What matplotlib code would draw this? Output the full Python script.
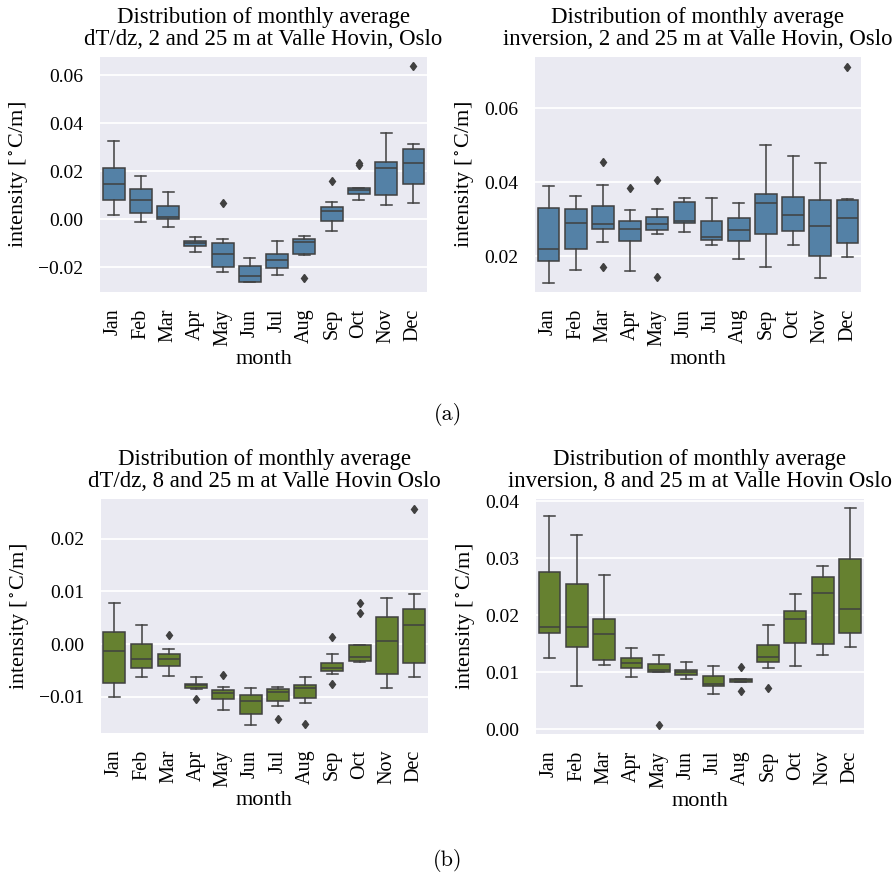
import colorsys
import numpy as np
import matplotlib
matplotlib.use("Agg")
import matplotlib.pyplot as plt
import matplotlib.colors as mcolors

months = ["Jan", "Feb", "Mar", "Apr", "May", "Jun", "Jul", "Aug", "Sep", "Oct", "Nov", "Dec"]

# box statistics: whislo, q1, med, q3, whishi, fliers
dtdz_2_whislo = [0.0018, -0.0013, -0.0031, -0.0138, -0.0219, -0.0263, -0.0233, -0.0150, -0.0047, 0.0081, 0.0058, 0.0069]
dtdz_2_q1 = [0.0078, 0.0025, -0.0001, -0.0111, -0.0197, -0.0260, -0.0204, -0.0143, -0.0008, 0.0104, 0.0099, 0.0146]
dtdz_2_med = [0.0147, 0.0081, 0.0008, -0.0100, -0.0146, -0.0238, -0.0171, -0.0094, 0.0036, 0.0122, 0.0214, 0.0232]
dtdz_2_q3 = [0.0213, 0.0126, 0.0053, -0.0090, -0.0101, -0.0196, -0.0144, -0.0081, 0.0049, 0.0129, 0.0238, 0.0294]
dtdz_2_whishi = [0.0324, 0.0181, 0.0115, -0.0072, -0.0083, -0.0160, -0.0092, -0.0068, 0.0071, 0.0132, 0.0357, 0.0314]
dtdz_2_fliers = [[], [], [], [], [0.0068], [], [], [-0.0243], [0.0157], [0.0236, 0.0226], [], [0.0636]]

inv_2_whislo = [0.0128, 0.0163, 0.0237, 0.0159, 0.0260, 0.0265, 0.0231, 0.0191, 0.0170, 0.0231, 0.0140, 0.0198]
inv_2_q1 = [0.0186, 0.0220, 0.0274, 0.0240, 0.0271, 0.0290, 0.0244, 0.0242, 0.0259, 0.0267, 0.0199, 0.0234]
inv_2_med = [0.0220, 0.0289, 0.0286, 0.0274, 0.0288, 0.0295, 0.0251, 0.0270, 0.0344, 0.0312, 0.0281, 0.0302]
inv_2_q3 = [0.0331, 0.0327, 0.0335, 0.0294, 0.0305, 0.0347, 0.0296, 0.0302, 0.0369, 0.0360, 0.0353, 0.0351]
inv_2_whishi = [0.0391, 0.0362, 0.0393, 0.0324, 0.0327, 0.0357, 0.0357, 0.0344, 0.0501, 0.0470, 0.0451, 0.0354]
inv_2_fliers = [[], [], [0.0455, 0.0170], [0.0385], [0.0405, 0.0143], [], [], [], [], [], [], [0.0712]]

dtdz_8_whislo = [-0.0101, -0.0063, -0.0060, -0.0086, -0.0125, -0.0154, -0.0118, -0.0112, -0.0056, -0.0034, -0.0084, -0.0062]
dtdz_8_q1 = [-0.0073, -0.0046, -0.0041, -0.0083, -0.0104, -0.0132, -0.0108, -0.0102, -0.0051, -0.0033, -0.0056, -0.0035]
dtdz_8_med = [-0.0013, -0.0029, -0.0028, -0.0078, -0.0092, -0.0108, -0.0091, -0.0084, -0.0045, -0.0024, 0.0006, 0.0036]
dtdz_8_q3 = [0.0022, 0.0000, -0.0019, -0.0075, -0.0087, -0.0096, -0.0086, -0.0077, -0.0035, -0.0002, 0.0051, 0.0066]
dtdz_8_whishi = [0.0077, 0.0037, -0.0010, -0.0063, -0.0082, -0.0084, -0.0081, -0.0063, -0.0018, -0.0001, 0.0088, 0.0094]
dtdz_8_fliers = [[], [], [0.0017], [-0.0104], [-0.0059], [], [-0.0142], [-0.0151], [0.0014, -0.0076], [0.0078, 0.0058], [], [0.0257]]

inv_8_whislo = [0.0126, 0.0076, 0.0113, 0.0092, 0.0100, 0.0088, 0.0063, 0.0083, 0.0108, 0.0111, 0.0131, 0.0145]
inv_8_q1 = [0.0169, 0.0145, 0.0122, 0.0108, 0.0100, 0.0095, 0.0077, 0.0084, 0.0118, 0.0152, 0.0149, 0.0169]
inv_8_med = [0.0179, 0.0179, 0.0168, 0.0116, 0.0105, 0.0100, 0.0080, 0.0086, 0.0127, 0.0193, 0.0239, 0.0211]
inv_8_q3 = [0.0276, 0.0255, 0.0194, 0.0125, 0.0114, 0.0105, 0.0094, 0.0088, 0.0148, 0.0207, 0.0267, 0.0298]
inv_8_whishi = [0.0374, 0.0341, 0.0271, 0.0143, 0.0131, 0.0119, 0.0112, 0.0089, 0.0183, 0.0237, 0.0287, 0.0388]
inv_8_fliers = [[], [], [], [], [0.0008], [], [], [0.0110, 0.0067], [0.0072], [], [], []]

plt.rcParams["font.family"] = ["Liberation Serif", "DejaVu Serif"]
plt.rcParams["mathtext.fontset"] = "stix"


def desat(c, prop=0.75):
    r, g, b = mcolors.to_rgb(c)
    h, l, s = colorsys.rgb_to_hls(r, g, b)
    return colorsys.hls_to_rgb(h, l, s * prop)


def box_panel(ax, whislo, q1, med, q3, whishi, fliers, color, title, ylim, yticks):
    stats = []
    for i in range(len(months)):
        stats.append(dict(whislo=whislo[i], q1=q1[i], med=med[i], q3=q3[i], whishi=whishi[i], fliers=fliers[i]))
    line = "#404040"
    ax.bxp(stats, positions=np.arange(len(months)), widths=0.8, patch_artist=True, showfliers=True,
           boxprops=dict(facecolor=desat(color), edgecolor=line, linewidth=1.1),
           medianprops=dict(color=line, linewidth=1.1),
           whiskerprops=dict(color=line, linewidth=1.1),
           capprops=dict(color=line, linewidth=1.1),
           flierprops=dict(marker="d", markerfacecolor=line, markeredgecolor=line, markersize=4.5),
           capwidths=0.4)
    ax.set_facecolor("#EAEAF2")
    for s in ax.spines.values():
        s.set_visible(False)
    ax.set_axisbelow(True)
    ax.grid(True, axis="y", color="white", linewidth=1.3)
    ax.set_xlim(-0.5, len(months) - 0.5)
    ax.set_ylim(*ylim)
    ax.set_yticks(yticks)
    ax.set_xticks(np.arange(len(months)))
    ax.set_xticklabels(months, rotation=90)
    ax.tick_params(axis="both", length=0, pad=12)
    ax.tick_params(axis="y", labelsize=14)
    ax.tick_params(axis="x", labelsize=14.5)
    ax.set_title(title, fontsize=16.4, linespacing=1.05, pad=9)
    ax.set_xlabel("month", fontsize=16, labelpad=3)
    ax.set_ylabel(r"intensity [$^\circ$C/m]", fontsize=16, labelpad=5)


fig = plt.figure(figsize=(8.96, 8.77), dpi=100)
blue = "steelblue"
green = "olivedrab"

ax = fig.add_axes([0.1116, 0.667, 0.365, 0.268])
box_panel(ax, dtdz_2_whislo, dtdz_2_q1, dtdz_2_med, dtdz_2_q3, dtdz_2_whishi, dtdz_2_fliers, blue,
          "Distribution of monthly average\ndT/dz, 2 and 25 m at Valle Hovin, Oslo",
          (-0.0303, 0.0675), [-0.02, 0.0, 0.02, 0.04, 0.06])

ax = fig.add_axes([0.597, 0.667, 0.364, 0.268])
box_panel(ax, inv_2_whislo, inv_2_q1, inv_2_med, inv_2_q3, inv_2_whishi, inv_2_fliers, blue,
          "Distribution of monthly average\ninversion, 2 and 25 m at Valle Hovin, Oslo",
          (0.01025, 0.0739), [0.02, 0.04, 0.06])

ax = fig.add_axes([0.1124, 0.164, 0.365, 0.267])
box_panel(ax, dtdz_8_whislo, dtdz_8_q1, dtdz_8_med, dtdz_8_q3, dtdz_8_whishi, dtdz_8_fliers, green,
          "Distribution of monthly average\ndT/dz, 8 and 25 m at Valle Hovin Oslo",
          (-0.0169, 0.0275), [-0.01, 0.0, 0.01, 0.02])

ax = fig.add_axes([0.598, 0.163, 0.366, 0.268])
box_panel(ax, inv_8_whislo, inv_8_q1, inv_8_med, inv_8_q3, inv_8_whishi, inv_8_fliers, green,
          "Distribution of monthly average\ninversion, 8 and 25 m at Valle Hovin Oslo",
          (-0.0008, 0.0404), [0.0, 0.01, 0.02, 0.03, 0.04])

fig.text(0.5, 0.527, "(a)", ha="center", va="center", fontsize=16, family="cmr10")
fig.text(0.5, 0.019, "(b)", ha="center", va="center", fontsize=16, family="cmr10")

fig.savefig("out.png", dpi=100, facecolor="white")
